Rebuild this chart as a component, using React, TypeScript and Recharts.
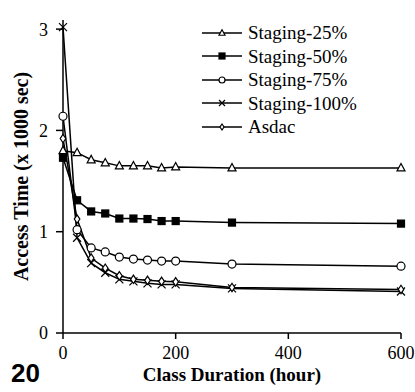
import React from 'react';
import { LineChart, Line, XAxis, YAxis, Legend } from 'recharts';

// Class duration (hours) on the x axis
const durations = [0, 25, 50, 75, 100, 125, 150, 175, 200, 300, 600];

// Access time in thousands of seconds, one array per policy
const staging25 = [1.8, 1.78, 1.71, 1.68, 1.65, 1.65, 1.65, 1.63, 1.64, 1.63, 1.63];
const staging50 = [1.73, 1.31, 1.2, 1.18, 1.13, 1.13, 1.125, 1.105, 1.105, 1.09, 1.08];
const staging75 = [2.14, 1.02, 0.84, 0.8, 0.75, 0.73, 0.72, 0.71, 0.71, 0.68, 0.66];
const staging100 = [3.02, 0.94, 0.69, 0.595, 0.53, 0.51, 0.49, 0.48, 0.48, 0.44, 0.41];
const asdac = [1.92, 1.125, 0.74, 0.64, 0.565, 0.53, 0.52, 0.51, 0.505, 0.45, 0.43];

const xTicks = [0, 200, 400, 600];
const yTicks = [0, 1, 2, 3];

type MarkerKind = 'triangle' | 'square' | 'circle' | 'cross' | 'diamond';

const series: { key: string; name: string; values: number[]; marker: MarkerKind }[] = [
  { key: 's25', name: 'Staging-25%', values: staging25, marker: 'triangle' },
  { key: 's50', name: 'Staging-50%', values: staging50, marker: 'square' },
  { key: 's75', name: 'Staging-75%', values: staging75, marker: 'circle' },
  { key: 's100', name: 'Staging-100%', values: staging100, marker: 'cross' },
  { key: 'asdac', name: 'Asdac', values: asdac, marker: 'diamond' },
];

const rows = durations.map((d, i) => {
  const row: Record<string, number> = { duration: d };
  series.forEach((s) => {
    row[s.key] = s.values[i];
  });
  return row;
});

const SERIF = '"Liberation Serif", "Times New Roman", serif';

function Marker({ kind, cx, cy, size }: { kind: MarkerKind; cx: number; cy: number; size: number }) {
  const r = size / 2;
  const stroke = { stroke: '#000', strokeWidth: 1.2 };
  if (cx == null || cy == null) return null;
  switch (kind) {
    case 'triangle':
      return (
        <polygon
          points={`${cx},${cy - r * 1.1} ${cx - r},${cy + r * 0.75} ${cx + r},${cy + r * 0.75}`}
          fill="#fff"
          {...stroke}
        />
      );
    case 'square':
      return <rect x={cx - r} y={cy - r} width={size} height={size} fill="#000" {...stroke} />;
    case 'circle':
      return <circle cx={cx} cy={cy} r={r} fill="#fff" {...stroke} />;
    case 'cross':
      return (
        <path
          d={`M${cx - r},${cy - r}L${cx + r},${cy + r}M${cx - r},${cy + r}L${cx + r},${cy - r}`}
          fill="none"
          {...stroke}
        />
      );
    default:
      return (
        <polygon
          points={`${cx},${cy - r * 1.2} ${cx + r * 0.8},${cy} ${cx},${cy + r * 1.2} ${cx - r * 0.8},${cy}`}
          fill="#fff"
          {...stroke}
        />
      );
  }
}

const makeDot = (kind: MarkerKind, size: number) => (p: any) => (
  <Marker key={`${kind}-${p.index}`} kind={kind} cx={p.cx} cy={p.cy} size={size} />
);

// Legend rows follow the series order rather than alphabetical order
const LegendContent = (props: any) => {
  const payload: any[] = props.payload || [];
  const ordered = series
    .map((s) => payload.find((e) => e.value === s.name))
    .filter(Boolean);
  return (
    <div style={{ display: 'flex', flexDirection: 'column' }}>
      {ordered.map((entry: any) => {
        const cfg = series.find((s) => s.name === entry.value);
        const kind = cfg ? cfg.marker : 'circle';
        return (
          <div
            key={entry.value}
            style={{ display: 'flex', alignItems: 'center', height: 23.5 }}
          >
            <svg width={40} height={14} style={{ display: 'block' }}>
              <line x1={0} x2={40} y1={7} y2={7} stroke="#000" strokeWidth={1.6} />
              <Marker kind={kind} cx={20} cy={7} size={kind === 'diamond' ? 5 : 6} />
            </svg>
            <span
              style={{
                marginLeft: 6,
                fontFamily: SERIF,
                fontSize: 19,
                color: '#000',
                lineHeight: 1,
                whiteSpace: 'nowrap',
              }}
            >
              {entry.value}
            </span>
          </div>
        );
      })}
    </div>
  );
};

const tickStyle = { fill: '#000', fontSize: 18, fontFamily: SERIF };
const axisStroke = { stroke: '#000', strokeWidth: 1.5 };

export default function App() {
  return (
    <div style={{ position: 'absolute', left: 0, top: 0, width: 415, height: 392, background: '#fff' }}>
      <LineChart
        width={415}
        height={392}
        data={rows}
        margin={{ top: 20, right: 14, bottom: 0, left: 0 }}
      >
        <XAxis
          dataKey="duration"
          type="number"
          domain={[0, 600]}
          ticks={xTicks}
          height={59}
          tickSize={6}
          tickMargin={7}
          axisLine={axisStroke}
          tickLine={axisStroke}
          tick={tickStyle}
          label={{
            value: 'Class Duration (hour)',
            position: 'insideBottom',
            offset: 11,
            style: { fill: '#000', fontSize: 19, fontWeight: 'bold', fontFamily: SERIF },
          }}
        />
        <YAxis
          type="number"
          domain={[0, 3.09]}
          ticks={yTicks}
          width={63}
          tickSize={7}
          tickMargin={8}
          axisLine={axisStroke}
          tickLine={axisStroke}
          tick={tickStyle}
          label={{
            value: 'Access Time (x 1000 sec)',
            angle: -90,
            position: 'insideLeft',
            offset: 21,
            style: {
              fill: '#000',
              fontSize: 20,
              fontWeight: 'bold',
              fontFamily: SERIF,
              textAnchor: 'middle',
            },
          }}
        />
        <Legend
          layout="vertical"
          align="center"
          verticalAlign="middle"
          content={LegendContent}
          wrapperStyle={{ top: 21, left: 202, width: 'auto' }}
        />
        {series.map((s) => (
          <Line
            key={s.key}
            dataKey={s.key}
            name={s.name}
            type="linear"
            stroke="#000"
            strokeWidth={1.5}
            dot={makeDot(s.marker, s.marker === 'diamond' ? 7 : s.marker === 'square' ? 7 : 8)}
            activeDot={false}
            isAnimationActive={false}
          />
        ))}
      </LineChart>
      <svg
        width={415}
        height={392}
        style={{ position: 'absolute', left: 0, top: 0, pointerEvents: 'none' }}
      >
        <text
          x={11}
          y={382}
          fontFamily='"Liberation Sans", Arial, sans-serif'
          fontWeight="bold"
          fontSize={26}
          fill="#000"
        >
          20
        </text>
      </svg>
    </div>
  );
}
